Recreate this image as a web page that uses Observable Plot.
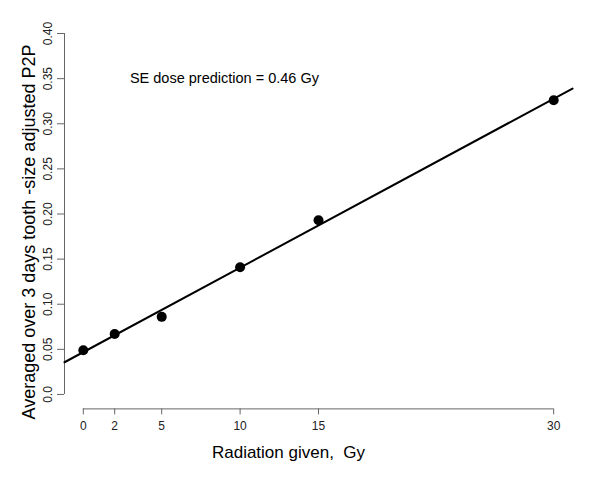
<!DOCTYPE html>
<html><head><meta charset="utf-8">
<script src="https://cdn.jsdelivr.net/npm/d3@7"></script>
<script src="https://cdn.jsdelivr.net/npm/@observablehq/plot@0.6"></script>
<style>
html,body{margin:0;padding:0;background:#fff;}
svg{display:block;}
</style>
</head><body>
<div id="chart"></div>
<script>
const dose = [0, 2, 5, 10, 15, 30];
const p2p = [0.049, 0.067, 0.086, 0.141, 0.193, 0.326];
const xTicks = [0, 2, 5, 10, 15, 30];
const yTicks = [0, 0.05, 0.10, 0.15, 0.20, 0.25, 0.30, 0.35, 0.40];
const yTickLabels = ["0.0", "0.05", "0.10", "0.15", "0.20", "0.25", "0.30", "0.35", "0.40"];
const xLabel = "Radiation given,  Gy";
const yLabel = "Averaged over 3 days tooth -size adjusted P2P";
const note = "SE dose prediction = 0.46 Gy";

const xDomain = [-1.2, 31.2];
const yDomain = [-0.016, 0.416];

const pts = dose.map((d, i) => ({dose: d, p2p: p2p[i]}));
// least squares fit
const mx = d3.mean(dose), my = d3.mean(p2p);
const slope = d3.sum(dose, (d, i) => (d - mx) * (p2p[i] - my)) / d3.sum(dose, d => (d - mx) ** 2);
const intercept = my - slope * mx;
const fitLine = xDomain.map(x => ({dose: x, p2p: intercept + slope * x}));

const font = "Liberation Sans, Arial, sans-serif";
const axisColor = "#666";

const chart = Plot.plot({
  width: 600,
  height: 482,
  marginLeft: 64,
  marginRight: 28,
  marginTop: 18.6,
  marginBottom: 73.6,
  style: {fontFamily: font, background: "#fff", color: "#000"},
  x: {type: "linear", domain: xDomain, axis: null},
  y: {type: "linear", domain: yDomain, axis: null},
  marks: [
    // y axis line and ticks
    Plot.ruleX([xDomain[0]], {y1: yTicks[0], y2: yTicks[yTicks.length - 1], stroke: axisColor}),
    Plot.axisY({ticks: yTicks, anchor: "left", tickSize: 7, tickFormat: () => "", stroke: axisColor, label: null}),
    Plot.text(yTicks, {x: xDomain[0], y: d => d, text: (d, i) => yTickLabels[i], rotate: -90, dx: -16, fontSize: 12, fill: "#222", textAnchor: "middle"}),
    // x axis line and ticks
    Plot.ruleY([yDomain[0]], {x1: xTicks[0], x2: xTicks[xTicks.length - 1], stroke: axisColor}),
    Plot.axisX({ticks: xTicks, anchor: "bottom", tickSize: 6, tickPadding: 7, fontSize: 12, stroke: axisColor, color: "#222", label: null, tickFormat: d => String(d)}),
    // fit line
    Plot.line(fitLine, {x: "dose", y: "p2p", stroke: "#000", strokeWidth: 2}),
    // points
    Plot.dot(pts, {x: "dose", y: "p2p", r: 5, fill: "#000", stroke: "none"}),
    // annotation
    Plot.text([note], {x: 9, y: 0.35, text: d => d, fontSize: 14.5, fill: "#000"}),
    // axis titles
    Plot.text([yLabel], {frameAnchor: "left", text: d => d, rotate: -90, dx: -35, dy: 18, textAnchor: "middle", fontSize: 18, fill: "#000"}),
    Plot.text([xLabel], {frameAnchor: "bottom", text: d => d, dx: -30, dy: 49, textAnchor: "middle", fontSize: 17, fill: "#000"})
  ]
});
document.getElementById("chart").appendChild(chart);
</script>
</body></html>
